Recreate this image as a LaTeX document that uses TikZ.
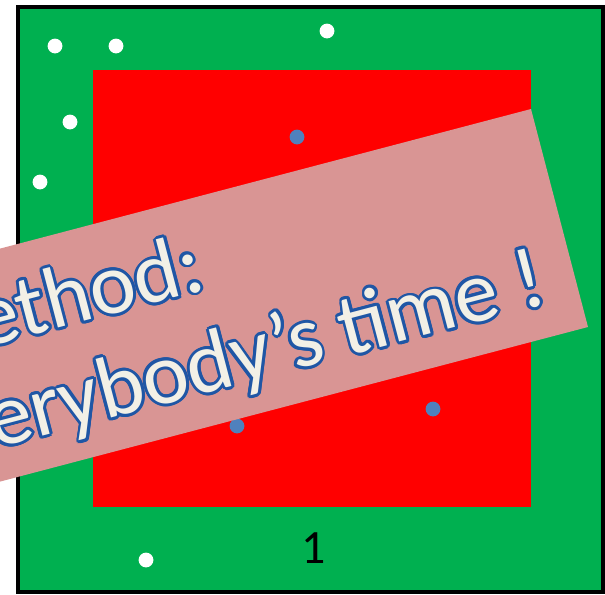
\documentclass[tikz,border=0pt]{standalone}
\usepackage{fontspec}
\usepackage{contour}
\setmainfont{Carlito}
\usetikzlibrary{positioning}
\definecolor{fieldgreen}{HTML}{00B050}
\definecolor{boxred}{HTML}{FF0000}
\definecolor{bannerpink}{HTML}{D99594}
\definecolor{dotblue}{HTML}{4F81BD}
\definecolor{textcream}{HTML}{F2F0E6}
\definecolor{outlineblue}{HTML}{1F56A5}
\contourlength{2.1pt}
\tikzset{
  whitedot/.style={circle, fill=white, inner sep=0pt, minimum size=0.37cm},
  bluedot/.style={circle, fill=dotblue, inner sep=0pt, minimum size=0.37cm},
  bannertext/.style={rotate=14.7, text=textcream, inner sep=0pt, font=\fontsize{62}{72}\selectfont}
}

\begin{document}
\begin{tikzpicture}[x=0.025cm, y=-0.025cm]
        % Page
        \path[use as bounding box, fill=white] (0,0) rectangle (605,594);
        \clip (0,0) rectangle (605,594);

        % Squares
        \filldraw[fill=fieldgreen, draw=black, line width=0.1cm] (18,6.5) rectangle (603,591.5);
        \fill[boxred] (93,70) rectangle (531,507);

        % Dots
        \node[whitedot] (w1) at (55,46) {};
        \node[whitedot] (w2) at (116,46) {};
        \node[whitedot] (w3) at (327,31) {};
        \node[whitedot] (w4) at (70,122) {};
        \node[whitedot] (w5) at (40,182) {};
        \node[whitedot] (w6) at (146,560) {};
        \node[bluedot] (b1) at (297,137) {};
        \node[bluedot] (b2) at (237,426) {};
        \node[bluedot] (b3) at (433,409) {};

        % Banner
        \fill[bannerpink] (531,109) -- (588,327) -- (-89,505) -- (-146,287) -- cycle;
        \node[bannertext, anchor=base east] (line1) at (208,289) {\contour{outlineblue}{ethod:}};
        \node[bannertext, anchor=base east] (line2) at (550,303) {\contour{outlineblue}{erybody’s time !}};

        % Number
        \node[font=\fontsize{34}{40}\selectfont] (num) at (314,548) {1};
\end{tikzpicture}
\end{document}
